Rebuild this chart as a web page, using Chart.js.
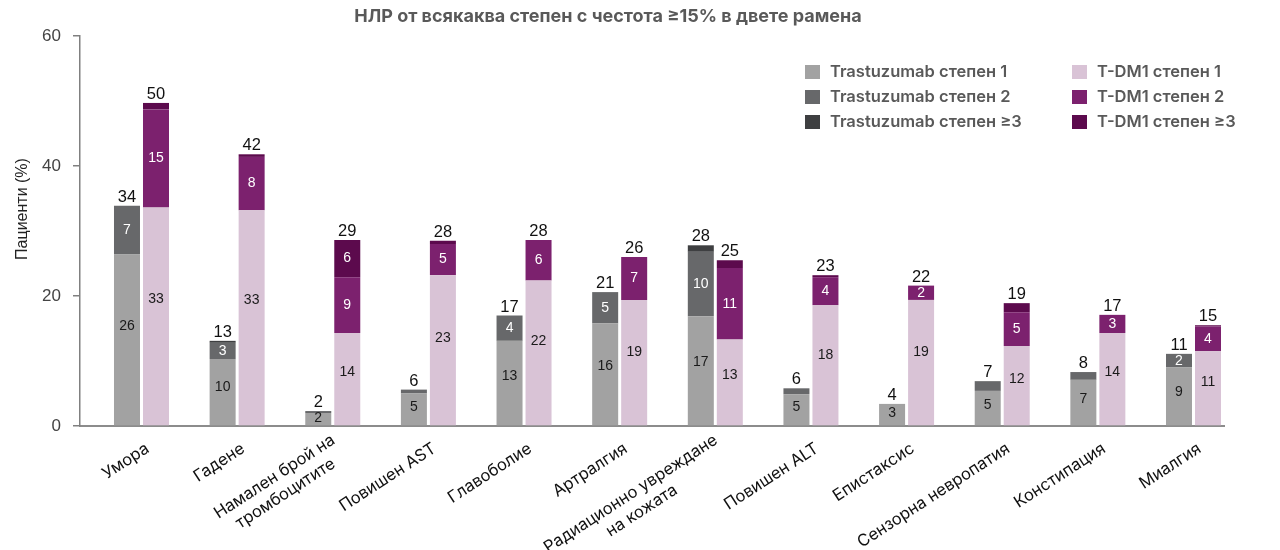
<!DOCTYPE html>
<html><head><meta charset="utf-8">
<script src="https://cdn.jsdelivr.net/npm/chart.js@4.4.1/dist/chart.umd.min.js"></script>
<style>html,body{margin:0;padding:0;background:#fff;} canvas{display:block;}</style>
</head><body>
<canvas id="c" width="1280" height="550"></canvas>
<script>
// ---------- DATA ----------
const titleText = "НЛР от всякаква степен с честота ≥15% в двете рамена";
const yTitle = "Пациенти (%)";
const categories = [["Умора"],["Гадене"],["Намален брой на","тромбоцитите"],["Повишен AST"],["Главоболие"],["Артралгия"],["Радиационно увреждане","на кожата"],["Повишен ALT"],["Епистаксис"],["Сензорна невропатия"],["Констипация"],["Миалгия"]];
const seriesNames = ["Trastuzumab степен 1","Trastuzumab степен 2","Trastuzumab степен ≥3","T-DM1 степен 1","T-DM1 степен 2","T-DM1 степен ≥3"];
const trastG1 = [26.4,10.3,2.0,5.0,13.1,15.8,16.9,4.9,3.4,5.4,7.1,9.0];
const trastG2 = [7.5,2.5,0.3,0.6,3.9,4.8,9.9,0.9,0,1.5,1.2,2.1];
const trastG3 = [0,0.3,0,0,0,0,1.0,0,0,0,0,0];
const tdm1G1 = [33.6,33.2,14.3,23.2,22.4,19.4,13.3,18.6,19.4,12.3,14.3,11.5];
const tdm1G2 = [15.1,8.2,8.6,4.8,6.2,6.6,11.0,4.3,2.2,5.2,2.8,3.8];
const tdm1G3 = [1.0,0.4,5.7,0.5,0,0,1.2,0.3,0,1.4,0,0.2];
const trastG1Labels = ["26","10","2","5","13","16","17","5","3","5","7","9"];
const trastG2Labels = ["7","3","","","4","5","10","","","","","2"];
const trastG3Labels = ["","","","","","","","","","","",""];
const tdm1G1Labels = ["33","33","14","23","22","19","13","18","19","12","14","11"];
const tdm1G2Labels = ["15","8","9","5","6","7","11","4","2","5","3","4"];
const tdm1G3Labels = ["","","6","","","","","","","","",""];
const trastTotals = ["34","13","2","6","17","21","28","6","4","7","8","11"];
const tdm1Totals = ["50","42","29","28","28","26","25","23","22","19","17","15"];
const yTicks = [0,20,40,60];

// ---------- STYLE ----------
const colors = ['#a2a2a2','#67686a','#3e3f41','#d9c3d6','#7c216e','#5c0a4d'];
const labelColors = ['#1a1a1a','#ffffff','#ffffff','#1a1a1a','#ffffff','#ffffff'];
const NUM_FONT = '"Liberation Sans", Arial, sans-serif';
const TXT_FONT = 'Inter, "Noto Sans", sans-serif';

const toPts = arr => arr.map((v, i) => ({x: i, y: v}));
const seriesData = [trastG1, trastG2, trastG3, tdm1G1, tdm1G2, tdm1G3];
const seriesLabels = [trastG1Labels, trastG2Labels, trastG3Labels, tdm1G1Labels, tdm1G2Labels, tdm1G3Labels];
const stacks = ['trast','trast','trast','tdm1','tdm1','tdm1'];
const grades = [1,2,3,1,2,3];

const datasets = seriesData.map((arr, k) => ({
  label: seriesNames[k],
  data: toPts(arr),
  stack: stacks[k],
  backgroundColor: colors[k],
  borderWidth: 0,
  segLabels: seriesLabels[k],
  labelColor: labelColors[k],
  grade: grades[k],
  categoryPercentage: 0.6065,
  barPercentage: 0.8966
}));

const segPlugin = {
  id: 'segPlugin',
  afterDatasetsDraw(chart) {
    const ctx = chart.ctx;
    ctx.save();
    ctx.textAlign = 'center';
    ctx.textBaseline = 'middle';
    ctx.font = '14px ' + NUM_FONT;
    chart.data.datasets.forEach((ds, di) => {
      const meta = chart.getDatasetMeta(di);
      meta.data.forEach((bar, i) => {
        const t = ds.segLabels[i];
        if (!t) return;
        const p = bar.getProps(['x','y','base'], true);
        const frac = ds.grade === 1 ? 0.42 : 0.5;
        ctx.fillStyle = ds.labelColor;
        ctx.fillText(t, p.x, p.y + (p.base - p.y) * frac);
      });
    });
    // totals
    const ys = chart.scales.y;
    ctx.font = '16.5px ' + NUM_FONT;
    ctx.fillStyle = '#111';
    ctx.textBaseline = 'alphabetic';
    const groups = [{idx:[0,1,2], labels: trastTotals},{idx:[3,4,5], labels: tdm1Totals}];
    groups.forEach(g => {
      const meta0 = chart.getDatasetMeta(g.idx[0]);
      categories.forEach((c, i) => {
        let sum = 0;
        g.idx.forEach(k => sum += seriesData[k][i]);
        const x = meta0.data[i].x;
        ctx.fillText(g.labels[i], x, ys.getPixelForValue(sum) - 4);
      });
    });
    ctx.restore();
  },
  afterDraw(chart) {
    const ctx = chart.ctx;
    const ca = chart.chartArea;
    ctx.save();
    // title
    ctx.font = 'bold 18px ' + TXT_FONT;
    ctx.fillStyle = '#595959';
    ctx.textAlign = 'center';
    ctx.textBaseline = 'middle';
    ctx.fillText(titleText, 608, 17);
    // y title
    ctx.save();
    ctx.translate(23, 209);
    ctx.rotate(-Math.PI/2);
    ctx.font = '16px "Liberation Sans Narrow", "Liberation Sans", sans-serif';
    ctx.fillStyle = '#222';
    ctx.fillText(yTitle, 0, 0);
    ctx.restore();
    // x labels
    const xs = chart.scales.x;
    ctx.font = '16.5px ' + TXT_FONT;
    ctx.fillStyle = '#111';
    const lh = 20;
    categories.forEach((lines, i) => {
      const px = xs.getPixelForValue(i);
      ctx.save();
      ctx.translate(px + 6, ca.bottom + 21);
      ctx.rotate(-33 * Math.PI / 180);
      const W = Math.max(...lines.map(l => ctx.measureText(l).width));
      ctx.textAlign = 'center';
      ctx.textBaseline = 'middle';
      lines.forEach((l, k) => {
        ctx.fillText(l, -W/2, (k - (lines.length - 1)/2) * lh);
      });
      ctx.restore();
    });
    // legend
    const colX = [805, 1072];
    const rowY = [72, 97, 122];
    ctx.font = '600 16.5px ' + TXT_FONT;
    ctx.textAlign = 'left';
    ctx.textBaseline = 'middle';
    chart.data.datasets.forEach((ds, k) => {
      const cx = colX[Math.floor(k/3)], cy = rowY[k % 3];
      ctx.fillStyle = ds.backgroundColor;
      ctx.fillRect(cx, cy - 7, 15, 14);
      ctx.fillStyle = '#595959';
      ctx.fillText(ds.label, cx + 25, cy);
    });
    ctx.restore();
  }
};

new Chart(document.getElementById('c'), {
  type: 'bar',
  data: { datasets },
  options: {
    responsive: false,
    devicePixelRatio: 1,
    animation: false,
    events: [],
    layout: { padding: { top: 36, right: 56, bottom: 0, left: 0 } },
    plugins: { legend: { display: false }, tooltip: { enabled: false }, title: { display: false } },
    scales: {
      x: {
        type: 'linear',
        min: -0.643, max: 11.319,
        offset: false,
        grid: { display: false },
        border: { display: true, color: '#8c8c8c', width: 2 },
        ticks: { display: false, stepSize: 1, includeBounds: false },
        afterFit(scale) { scale.height = 124; }
      },
      y: {
        stacked: true,
        min: 0, max: 60,
        afterBuildTicks(scale) { scale.ticks = yTicks.map(v => ({value: v})); },
        grid: { display: true, drawOnChartArea: false, drawTicks: true, tickLength: 7, color: '#808080', lineWidth: 1.5 },
        border: { display: true, color: '#808080', width: 1.5 },
        ticks: { font: { family: NUM_FONT, size: 17 }, color: '#444', padding: 12 },
        afterFit(scale) { scale.width = 80; }
      }
    }
  },
  plugins: [segPlugin]
});
</script>
</body></html>
